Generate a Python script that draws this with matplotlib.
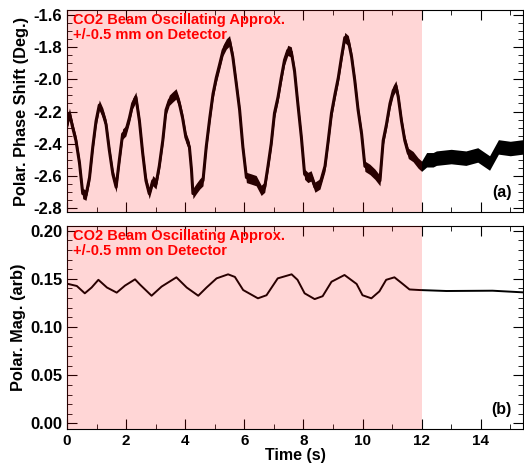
import numpy as np
import matplotlib
matplotlib.use('Agg')
import matplotlib.pyplot as plt
from matplotlib.ticker import MultipleLocator, FormatStrFormatter

plt.rcParams['font.family'] = ['Liberation Sans', 'DejaVu Sans']
plt.rcParams['font.weight'] = 'bold'

# polarimeter phase shift (deg)
t_phase = [0.0, 0.08, 0.19, 0.30, 0.42, 0.53, 0.64, 0.76, 0.87, 0.98, 1.09, 1.21, 1.32, 1.43,
           1.55, 1.66, 1.77, 1.88, 1.99, 2.11, 2.22, 2.33, 2.45, 2.56, 2.67, 2.78, 2.90, 3.01,
           3.12, 3.24, 3.35, 3.46, 3.57, 3.69, 3.80, 3.91, 4.02, 4.14, 4.21, 4.26, 4.37, 4.49,
           4.60, 4.71, 4.83, 4.94, 5.05, 5.16, 5.28, 5.39, 5.50, 5.61, 5.73, 5.84, 5.95, 6.07,
           6.24, 6.40, 6.57, 6.69, 6.80, 6.91, 7.02, 7.14, 7.25, 7.36, 7.47, 7.59, 7.70, 7.81,
           7.93, 8.04, 8.15, 8.26, 8.39, 8.56, 8.73, 8.84, 8.95, 9.07, 9.18, 9.29, 9.40, 9.52,
           9.63, 9.74, 9.85, 9.97, 10.08, 10.25, 10.42, 10.59, 10.70, 10.81, 10.93, 11.04,
           11.13, 11.21, 11.32, 11.43, 11.55, 11.71, 11.88, 12.00, 12.17, 12.39, 12.5, 13.0,
           13.5, 13.9, 14.3, 14.6, 15.0, 15.43]
phase = [-2.28, -2.21, -2.30, -2.38, -2.52, -2.71, -2.72, -2.61, -2.42, -2.26, -2.16, -2.21,
         -2.28, -2.44, -2.59, -2.67, -2.50, -2.34, -2.32, -2.24, -2.15, -2.11, -2.26, -2.46,
         -2.63, -2.71, -2.63, -2.65, -2.54, -2.38, -2.19, -2.13, -2.11, -2.09, -2.15, -2.24,
         -2.36, -2.42, -2.56, -2.71, -2.68, -2.65, -2.63, -2.42, -2.24, -2.09, -1.99, -1.91,
         -1.82, -1.78, -1.76, -1.86, -2.03, -2.19, -2.42, -2.61, -2.62, -2.63, -2.69, -2.67,
         -2.54, -2.40, -2.21, -2.11, -1.99, -1.88, -1.82, -1.83, -1.95, -2.15, -2.36, -2.59,
         -2.61, -2.60, -2.67, -2.65, -2.54, -2.38, -2.21, -2.09, -1.99, -1.86, -1.74, -1.76,
         -1.86, -2.01, -2.19, -2.34, -2.54, -2.56, -2.59, -2.63, -2.38, -2.28, -2.15, -2.07,
         -2.04, -2.11, -2.26, -2.38, -2.46, -2.48, -2.52, -2.54, -2.50, -2.50, -2.49, -2.48,
         -2.49, -2.47, -2.52, -2.42, -2.43, -2.42]
# half width of the noise band around the phase trace
phase_noise = [0.032] * 104 + [0.045] * 10

# polarimeter magnitude (arb)
t_mag = [0.0, 0.33, 0.6, 0.83, 1.06, 1.35, 1.68, 1.96, 2.3, 2.47, 2.86, 3.2, 3.7, 4.05, 4.44,
         4.72, 5.06, 5.45, 5.68, 5.96, 6.46, 6.75, 7.13, 7.6, 7.8, 8.04, 8.38, 8.65, 8.95,
         9.39, 9.8, 10.0, 10.3, 10.57, 10.8, 11.08, 11.35, 11.59, 11.93, 12.84, 14.4, 15.43]
mag = [0.145, 0.1426, 0.135, 0.141, 0.149, 0.141, 0.1357, 0.143, 0.1495, 0.144, 0.1325,
       0.142, 0.1516, 0.141, 0.1325, 0.141, 0.1505, 0.1547, 0.152, 0.1384, 0.1298, 0.133,
       0.1505, 0.1547, 0.149, 0.135, 0.129, 0.132, 0.147, 0.154, 0.1447, 0.133, 0.1298,
       0.137, 0.149, 0.1516, 0.145, 0.139, 0.1384, 0.1374, 0.1377, 0.136]

beam_on = (0, 12)
note = 'CO2 Beam Oscillating Approx.\n+/-0.5 mm on Detector'

fig = plt.figure(figsize=(5.24, 4.63), dpi=100)
ax1 = fig.add_axes([0.128, 0.542, 0.870, 0.436])
ax2 = fig.add_axes([0.128, 0.073, 0.870, 0.439])

lo = np.array(phase) - np.array(phase_noise)
hi = np.array(phase) + np.array(phase_noise)
ax1.fill_between(t_phase, lo, hi, color='black', lw=0, zorder=1)
ax1.plot(t_phase, phase, color='black', lw=2.2, zorder=2, solid_joinstyle='round')
ax2.plot(t_mag, mag, color='black', lw=1.4, zorder=2)

for ax in (ax1, ax2):
    ax.axvspan(beam_on[0], beam_on[1], color='red', alpha=0.16, lw=0, zorder=3)
    ax.set_xlim(0, 15.43)
    ax.xaxis.set_major_locator(MultipleLocator(2))
    ax.xaxis.set_minor_locator(MultipleLocator(1))
    ax.tick_params(which='both', direction='in', top=True, right=True)
    ax.tick_params(axis='x', labelsize=11)
    ax.tick_params(axis='y', labelsize=12)
    ax.tick_params(which='major', length=7)
    ax.tick_params(which='minor', length=3.5)
    ax.text(0.012, 0.985, note, transform=ax.transAxes, color='red', fontsize=10.5,
            fontweight='bold', va='top', ha='left', zorder=5, linespacing=1.1)

ax1.set_ylim(-2.825, -1.57)
ax1.set_yticks(np.arange(-2.8, -1.59, 0.2))
ax1.set_yticklabels(['%.1f' % v for v in np.arange(-2.8, -1.59, 0.2)])
ax1.yaxis.set_minor_locator(MultipleLocator(0.05))
ax1.tick_params(labelbottom=False)
ax1.set_ylabel('Polar. Phase Shift (Deg.)', fontsize=11.8, fontweight='bold', labelpad=3)
ax1.text(0.975, 0.06, '(a)', transform=ax1.transAxes, fontsize=11.5, fontweight='bold',
         ha='right', va='bottom')

ax2.set_ylim(-0.006, 0.2049)
ax2.yaxis.set_major_locator(MultipleLocator(0.05))
ax2.yaxis.set_minor_locator(MultipleLocator(0.01))
ax2.yaxis.set_major_formatter(FormatStrFormatter('%.2f'))
ax2.set_ylabel('Polar. Mag. (arb)', fontsize=11.8, fontweight='bold', labelpad=3)
ax2.set_xlabel('Time (s)', fontsize=11.5, fontweight='bold', labelpad=0)
ax2.text(0.975, 0.06, '(b)', transform=ax2.transAxes, fontsize=11.5, fontweight='bold',
         ha='right', va='bottom')

fig.savefig('out.png', dpi=100)
